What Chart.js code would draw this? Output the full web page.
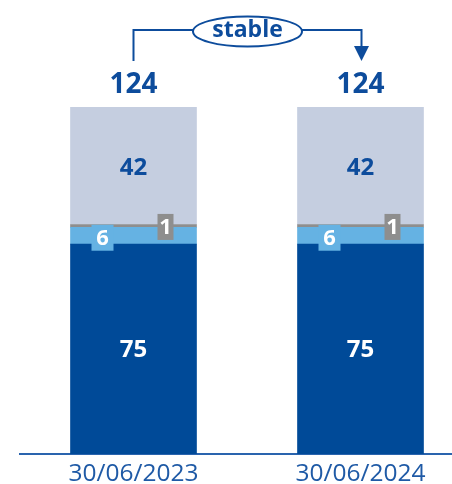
<!DOCTYPE html>
<html>
<head>
<meta charset="utf-8">
<script src="https://cdn.jsdelivr.net/npm/chart.js@4.4.1/dist/chart.umd.min.js"></script>
<style>
    html, body { margin: 0; padding: 0; background: #fff; overflow: hidden; }
    #wrap { width: 452px; height: 484px; overflow: hidden; }
</style>
</head>
<body>
<div id="wrap"><canvas id="chart" width="474" height="484"></canvas></div>
<script>
const categories = ['30/06/2023', '30/06/2024'];
const segDark = [75, 75];
const segLightBlue = [6, 6];
const segGrey = [1, 1];
const segLightGrey = [42, 42];
const totals = [124, 124];
const changeLabel = 'stable';

const DARK = '#004A98';
const LIGHTBLUE = '#65B2E3';
const GREY = '#8E8E8E';
const LIGHTGREY = '#C5CEE0';
const TEXT = '#0D4C9C';

// draws values inside/over bars + totals + the "stable" bracket
const labelsPlugin = {
    id: 'labels',
    afterDatasetsDraw(chart) {
        const ctx = chart.ctx;
        const y = chart.scales.y;
        ctx.save();
        ctx.textAlign = 'center';
        ctx.textBaseline = 'middle';

        const metaDark = chart.getDatasetMeta(0);
        const metaLB = chart.getDatasetMeta(1);
        const metaGrey = chart.getDatasetMeta(2);
        const metaLG = chart.getDatasetMeta(3);

        metaDark.data.forEach((bar, i) => {
            const left = bar.x - bar.width / 2;
            const right = bar.x + bar.width / 2;

            ctx.font = 'bold 24px "Open Sans"';
            ctx.fillStyle = '#fff';
            ctx.fillText(String(segDark[i]), bar.x, (bar.y + bar.base) / 2 + 1);

            const lg = metaLG.data[i];
            ctx.fillStyle = TEXT;
            ctx.fillText(String(segLightGrey[i]), lg.x, (lg.y + lg.base) / 2 + 2);

            // light blue box
            const lb = metaLB.data[i];
            const cyLB = (lb.y + lb.base) / 2 + 2;
            ctx.fillStyle = LIGHTBLUE;
            ctx.fillRect(left + 21, cyLB - 13, 22, 26);
            ctx.fillStyle = '#fff';
            ctx.font = 'bold 22px "Open Sans"';
            ctx.fillText(String(segLightBlue[i]), left + 32, cyLB + 1);

            // grey box
            const gr = metaGrey.data[i];
            const cyG = (gr.y + gr.base) / 2 + 1;
            ctx.fillStyle = GREY;
            ctx.fillRect(right - 39, cyG - 13, 16, 26);
            ctx.fillStyle = '#fff';
            ctx.fillText(String(segGrey[i]), right - 31, cyG + 1);

            // total
            ctx.fillStyle = TEXT;
            ctx.font = 'bold 28px "Open Sans"';
            ctx.fillText(String(totals[i]), bar.x, y.getPixelForValue(totals[i]) - 22);
        });

        // bracket with arrow
        const x1 = metaDark.data[0].x;
        const x2 = metaDark.data[1].x + 1;
        const topY = 30;
        const lowY = 61;
        const cx = (x1 + x2) / 2;
        const rx = 54.5, ry = 15;
        ctx.strokeStyle = TEXT;
        ctx.lineWidth = 2;
        ctx.beginPath();
        ctx.moveTo(x1, lowY);
        ctx.lineTo(x1, topY);
        ctx.lineTo(cx - rx, topY);
        ctx.moveTo(cx + rx, topY);
        ctx.lineTo(x2, topY);
        ctx.lineTo(x2, lowY - 14);
        ctx.stroke();
        ctx.beginPath();
        ctx.ellipse(cx, topY + 1.5, rx, ry, 0, 0, Math.PI * 2);
        ctx.stroke();
        ctx.fillStyle = TEXT;
        ctx.beginPath();
        ctx.moveTo(x2 - 7.5, lowY - 15);
        ctx.lineTo(x2 + 7.5, lowY - 15);
        ctx.lineTo(x2, lowY);
        ctx.closePath();
        ctx.fill();
        ctx.font = 'bold 23px "Open Sans"';
        ctx.fillText(changeLabel, cx, topY);
        ctx.restore();
    }
};

new Chart(document.getElementById('chart'), {
    type: 'bar',
    data: {
        labels: categories,
        datasets: [
            { data: segDark, backgroundColor: DARK },
            { data: segLightBlue, backgroundColor: LIGHTBLUE },
            { data: segGrey, backgroundColor: GREY },
            { data: segLightGrey, backgroundColor: LIGHTGREY }
        ]
    },
    options: {
        responsive: false,
        animation: false,
        devicePixelRatio: 1,
        layout: { padding: { top: 107, left: 20, right: 0, bottom: 0 } },
        datasets: { bar: { barThickness: 126, borderWidth: 0 } },
        plugins: { legend: { display: false }, tooltip: { enabled: false } },
        scales: {
            x: {
                stacked: true,
                grid: { display: false, drawTicks: false },
                border: { display: true, color: '#2A64AE', width: 2 },
                ticks: { color: '#1F5AA6', font: { family: 'Open Sans', size: 24.5 }, padding: 5 },
                afterFit: (scale) => { scale.height = 30; }
            },
            y: {
                stacked: true,
                display: false,
                min: 0,
                max: 124
            }
        }
    },
    plugins: [labelsPlugin]
});
</script>
</body>
</html>
